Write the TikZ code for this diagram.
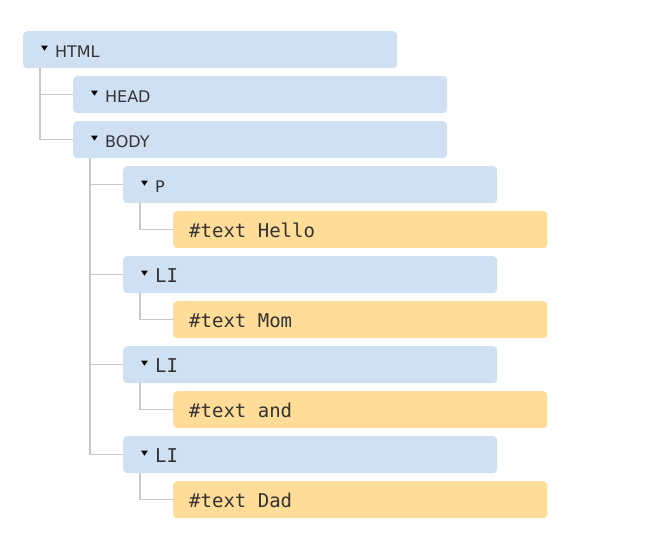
\documentclass[tikz,border=0pt]{standalone}
\usepackage{fontspec}
\setmainfont{DejaVu Sans}
\setmonofont{DejaVu Sans Mono}
\usepackage{graphicx}
\usepackage{xcolor}
\usepackage{tikz}

\definecolor{tagblue}{HTML}{CFE0F3}
\definecolor{textorange}{HTML}{FFDC98}
\definecolor{branchgray}{HTML}{C8C8C8}
\definecolor{labelgray}{HTML}{333333}
\newcommand{\opened}{\raisebox{6.5pt}{\scalebox{1}[0.75]{\rmfamily\fontsize{9}{9}\selectfont\color{black}\char"25BC}}\hspace{7pt}}
\newcommand{\monogap}{\hspace{0.602em}}

\begin{document}
\begin{tikzpicture}[x=1pt,y=-1pt,
tag/.style={rectangle, rounded corners=4pt, fill=tagblue, text=labelgray, anchor=north west, minimum height=37pt, text width=338pt, text height=15pt, text depth=0pt, inner xsep=18pt, inner ysep=0pt, align=left, font=\fontsize{16}{19}\selectfont},
monotag/.style={tag, font=\ttfamily\fontsize{19}{22}\selectfont},
textnode/.style={tag, fill=textorange, inner xsep=16pt, text width=342pt, font=\ttfamily\fontsize{19}{22}\selectfont},
branch/.style={draw=branchgray, line width=1.5pt},
]
\useasboundingbox (0,0) rectangle (658,541);

\node[tag] (html) at (23,31){\opened HTML};
\node[tag] (head) at (73,76){\opened HEAD};
\node[tag] (body) at (73,121){\opened BODY};
\node[tag] (p) at (123,166){\opened P};
\node[textnode] (hello) at (173,211){\#text\monogap Hello};
\node[monotag] (li1) at (123,256){\opened LI};
\node[textnode] (mom) at (173,301){\#text\monogap Mom};
\node[monotag] (li2) at (123,346){\opened LI};
\node[textnode] (and) at (173,391){\#text\monogap and};
\node[monotag] (li3) at (123,436){\opened LI};
\node[textnode] (dad) at (173,481){\#text\monogap Dad};

\draw[branch] ([xshift=17pt]html.south west) |- (head.west);
\draw[branch] ([xshift=17pt]html.south west) |- (body.west);

\foreach \kid in {p,li1,li2,li3}
  \draw[branch] ([xshift=17pt]body.south west) |- (\kid.west);

\foreach \up/\kid in {p/hello,li1/mom,li2/and,li3/dad}
  \draw[branch] ([xshift=17pt]\up.south west) |- (\kid.west);

\end{tikzpicture}
\end{document}
